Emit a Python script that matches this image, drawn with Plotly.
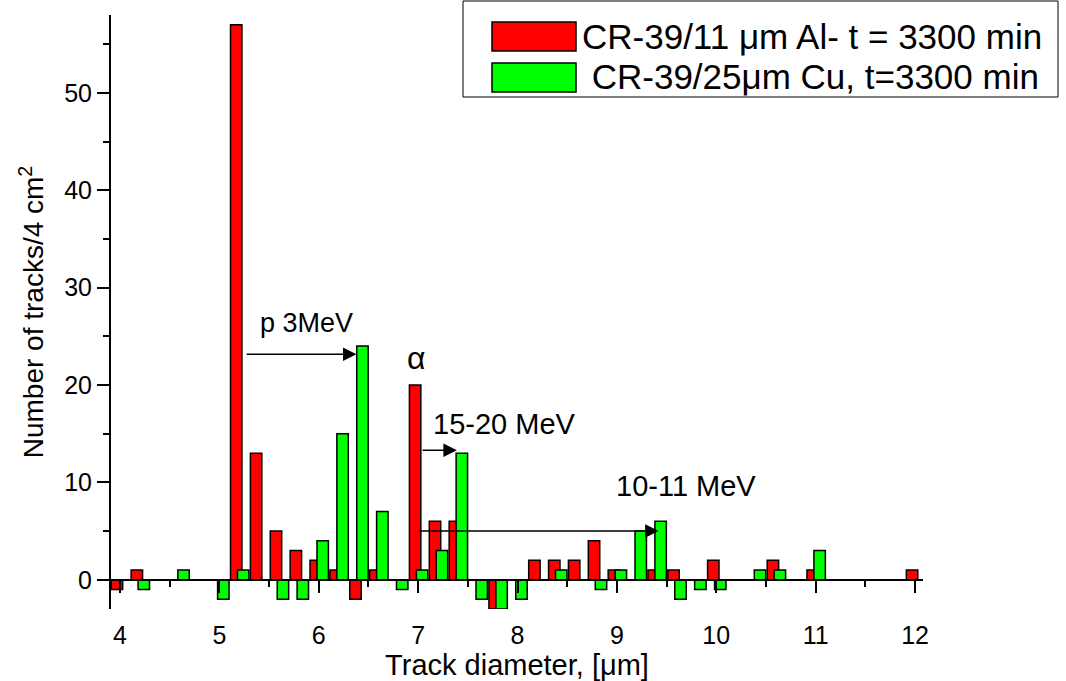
import plotly.graph_objects as go

# bin positions of the track diameter histogram (um)
bins = [round(4.0 + 0.2 * k, 1) for k in range(41)]

# CR-39 behind 11 um Al, t = 3300 min
al_counts = [-1, 1, 0, 0, 0, 0, 57, 13, 5, 3, 2, 1, -2, 1, 0, 20, 6, 6, 0, -3,
             0, 2, 2, 2, 4, 1, 0, 1, 1, 0, 2, 0, 0, 2, 0, 1, 0, 0, 0, 0, 1]
# CR-39 behind 25 um Cu, t = 3300 min
cu_counts = [0, -1, 0, 1, 0, -2, 1, 0, -2, -2, 4, 15, 24, 7, -1, 1, 3, 13, -2, -3,
             -2, 0, 1, 0, -1, 1, 5, 6, -2, -1, -1, 0, 1, 1, 0, 3, 0, 0, 0, 0, 0]

series_names = ["CR-39/11 \u03bcm Al- t = 3300 min", " CR-39/25\u03bcm Cu, t=3300 min"]
x_ticks = [4, 5, 6, 7, 8, 9, 10, 11, 12]
y_ticks = [0, 10, 20, 30, 40, 50]

FONT = "Liberation Sans, Arial, sans-serif"
XR = [3.91, 12.08]
YR = [-3, 58]
W, H = 1066, 681
ML, MR, MT, MB = 111, 143, 15, 72
PW, PH = W - ML - MR, H - MT - MB


def px(x):
    return (x - ML) / PW


def py(y):
    return (H - MB - y) / PH


bw = 0.115
fig = go.Figure()
fig.add_trace(go.Bar(x=bins, y=al_counts, name=series_names[0], width=bw, offset=-0.03 - bw / 2,
                     marker=dict(color="#ff0000", line=dict(color="black", width=1.5)),
                     opacity=1, showlegend=False))
fig.add_trace(go.Bar(x=bins, y=cu_counts, name=series_names[1], width=bw, offset=0.04 - bw / 2,
                     marker=dict(color="#00ff00", line=dict(color="black", width=1.5)),
                     opacity=1, showlegend=False))
# invisible trace so the zero-line axis gets drawn
fig.add_trace(go.Scatter(x=[5], y=[0], xaxis="x2", mode="markers",
                         marker=dict(opacity=0), showlegend=False, hoverinfo="skip"))

fig.update_layout(
    width=W, height=H,
    margin=dict(l=ML, r=MR, t=MT, b=MB, autoexpand=False),
    paper_bgcolor="white", plot_bgcolor="white",
    barmode="overlay",
    font=dict(family=FONT, color="black"),
    xaxis=dict(range=XR, showline=False, showgrid=False, zeroline=False, automargin=False,
               tickvals=x_ticks, ticks="outside", ticklen=4, tickcolor="rgba(0,0,0,0)",
               tickfont=dict(size=25),
               title=dict(text="Track diameter, [\u03bcm]", font=dict(size=29), standoff=4)),
    xaxis2=dict(range=XR, overlaying="x", anchor="free", position=-YR[0] / (YR[1] - YR[0]),
                side="bottom", showline=True, linecolor="black", linewidth=2, automargin=False,
                showgrid=False, zeroline=False, showticklabels=False,
                tickvals=x_ticks, ticks="outside", ticklen=12, tickwidth=2, tickcolor="black",
                minor=dict(dtick=0.5, tick0=0, ticks="outside", ticklen=6, tickwidth=2,
                           tickcolor="black", showgrid=False)),
    yaxis=dict(range=YR, showline=True, linecolor="black", linewidth=2, automargin=False,
               showgrid=False, zeroline=False,
               tickvals=y_ticks, ticks="outside", ticklen=12, tickwidth=2, tickcolor="black",
               minor=dict(dtick=5, tick0=0, ticks="outside", ticklen=6, tickwidth=2,
                          tickcolor="black", showgrid=False),
               tickfont=dict(size=25),
               title=dict(text="Number of tracks/4 cm<sup>2</sup>", font=dict(size=28), standoff=12)),
)

# legend drawn by hand to get the wide colour swatches
shapes = [
    dict(type="rect", xref="paper", yref="paper", x0=px(463), x1=px(1058), y0=py(97), y1=py(1),
         line=dict(color="black", width=1), fillcolor="white", layer="above"),
    dict(type="rect", xref="paper", yref="paper", x0=px(492), x1=px(576), y0=py(51), y1=py(22),
         line=dict(color="black", width=1.5), fillcolor="#ff0000", layer="above"),
    dict(type="rect", xref="paper", yref="paper", x0=px(492), x1=px(576), y0=py(92), y1=py(63),
         line=dict(color="black", width=1.5), fillcolor="#00ff00", layer="above"),
]
fig.update_layout(shapes=shapes)

for name, yy in zip(series_names, [36, 77]):
    fig.add_annotation(x=px(580), y=py(yy), xref="paper", yref="paper", text=name,
                       showarrow=False, xanchor="left", yanchor="middle", font=dict(size=35))

# arrows and labels
arrows = [((5.26, 23.15), (6.38, 23.15)), ((7.03, 13.3), (7.39, 13.3)), ((7.0, 5.0), (9.42, 5.0))]
for (tx, ty), (hx, hy) in arrows:
    fig.add_annotation(x=hx, y=hy, ax=tx, ay=ty, xref="x", yref="y", axref="x", ayref="y",
                       text="", showarrow=True, arrowhead=2, arrowsize=1.8, arrowwidth=1.5,
                       arrowcolor="black")

labels = [("p 3MeV", 5.88, 26.4, 27), ("\u03b1", 6.98, 22.8, 32),
          ("15-20 MeV", 7.87, 16.0, 29), ("10-11 MeV", 9.70, 9.6, 29)]
for txt, lx, ly, fs in labels:
    fig.add_annotation(x=lx, y=ly, xref="x", yref="y", text=txt, showarrow=False,
                       font=dict(size=fs))

# drop the browser's default page margin so the figure sits at the window corner
fig.write_html("out.html", config={"displayModeBar": False},
               post_script="document.body.style.margin='0';")
